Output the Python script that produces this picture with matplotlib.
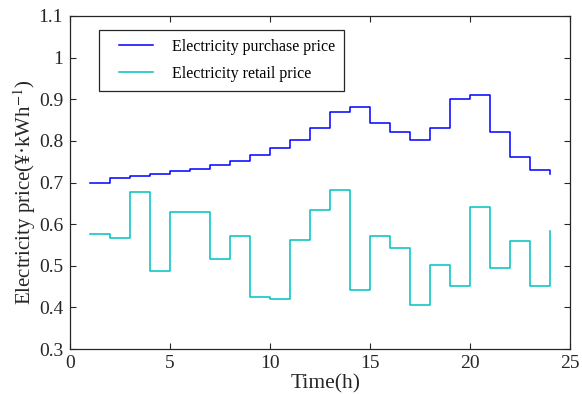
import matplotlib
matplotlib.use("Agg")
import matplotlib.pyplot as plt
from matplotlib.lines import Line2D
from matplotlib.legend_handler import HandlerLine2D

# hourly prices (yuan / kWh)
hours = list(range(1, 25))
purchase = [0.700, 0.711, 0.716, 0.721, 0.727, 0.732, 0.742, 0.752, 0.766, 0.783,
            0.802, 0.830, 0.870, 0.881, 0.842, 0.822, 0.802, 0.831, 0.900, 0.911,
            0.822, 0.762, 0.731, 0.721]
retail = [0.577, 0.567, 0.676, 0.488, 0.629, 0.628, 0.516, 0.572, 0.425, 0.419,
          0.561, 0.635, 0.683, 0.441, 0.572, 0.543, 0.406, 0.503, 0.451, 0.640,
          0.495, 0.560, 0.452, 0.583]
labels = ["Electricity purchase price", "Electricity retail price"]

plt.rcParams["font.family"] = ["Liberation Serif", "DejaVu Serif"]
plt.rcParams["mathtext.fontset"] = "stix"

fig = plt.figure(figsize=(5.82, 3.94), dpi=100)
ax = fig.add_axes([0.1203, 0.1142, 0.8591, 0.8452])

ax.step(hours, purchase, where="post", color="#0000ff", lw=1.1, label=labels[0])
ax.step(hours, retail, where="post", color="#00c0c0", lw=1.1, label=labels[1])

ax.set_xlim(0, 25)
ax.set_ylim(0.3, 1.1)
ax.set_xticks([0, 5, 10, 15, 20, 25])
ax.set_yticks([0.3, 0.4, 0.5, 0.6, 0.7, 0.8, 0.9, 1.0, 1.1])
ax.set_yticklabels(["0.3", "0.4", "0.5", "0.6", "0.7", "0.8", "0.9", "1", "1.1"])
ax.tick_params(direction="in", top=True, right=True, length=4, width=0.8,
               labelsize=14, colors="#262626")
ax.tick_params(axis="y", pad=5)
ax.tick_params(axis="x", pad=4)
for sp in ax.spines.values():
    sp.set_color("#262626")
    sp.set_linewidth(0.9)

ax.set_xlabel("Time(h)", fontsize=15.5, color="#262626")
ax.set_ylabel("Electricity price(¥·kWh$^{-1}$)", fontsize=15, color="#262626")
ax.xaxis.set_label_coords(0.512, -0.075)
ax.yaxis.set_label_coords(-0.064, 0.47)

leg = ax.legend(loc="upper left", bbox_to_anchor=(0.058, 0.958), fontsize=11.5,
                fancybox=False, edgecolor="#262626", framealpha=1,
                handlelength=2.8, handletextpad=1.25, borderpad=0.55,
                labelspacing=0.7, borderaxespad=0,
                handler_map={Line2D: HandlerLine2D(xpad=0.69)})
leg.get_frame().set_linewidth(0.9)

fig.savefig("out.png", dpi=100)
